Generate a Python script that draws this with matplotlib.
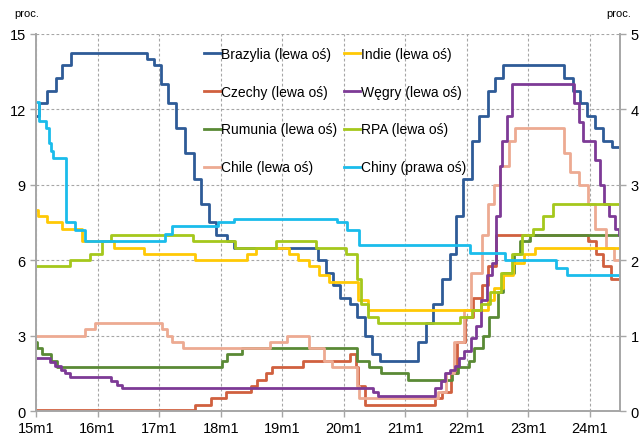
import pandas as pd
import numpy as np
import matplotlib.pyplot as plt
import matplotlib.dates as mdates

plt.rcParams['font.family'] = ['Liberation Sans', 'DejaVu Sans']

start = "2015-01-01"
end = "2024-06-28"

# policy rates: date of change -> new level
brazil_dates = ["2015-01-01", "2015-01-21", "2015-03-04", "2015-04-29", "2015-06-03", "2015-07-29",
                "2016-10-19", "2016-11-30", "2017-01-11", "2017-02-22", "2017-04-12", "2017-05-31",
                "2017-07-26", "2017-09-06", "2017-10-25", "2017-12-06", "2018-02-07", "2018-03-21",
                "2019-07-31", "2019-09-18", "2019-10-30", "2019-12-11", "2020-02-05", "2020-03-18",
                "2020-05-06", "2020-06-17", "2020-08-05", "2021-03-17", "2021-05-05", "2021-06-16",
                "2021-08-04", "2021-09-22", "2021-10-27", "2021-12-08", "2022-02-02", "2022-03-16",
                "2022-05-04", "2022-06-15", "2022-08-03", "2023-08-02", "2023-09-20", "2023-11-01",
                "2023-12-13", "2024-01-31", "2024-03-20", "2024-05-08"]
brazil_rates = [11.75, 12.25, 12.75, 13.25, 13.75, 14.25,
                14.0, 13.75, 13.0, 12.25, 11.25, 10.25,
                9.25, 8.25, 7.5, 7.0, 6.75, 6.5,
                6.0, 5.5, 5.0, 4.5, 4.25, 3.75,
                3.0, 2.25, 2.0, 2.75, 3.5, 4.25,
                5.25, 6.25, 7.75, 9.25, 10.75, 11.75,
                12.75, 13.25, 13.75, 13.25, 12.75, 12.25,
                11.75, 11.25, 10.75, 10.5]

india_dates = ["2015-01-01", "2015-01-15", "2015-03-04", "2015-06-02", "2015-09-29", "2016-04-05",
               "2016-10-04", "2017-08-02", "2018-06-06", "2018-08-01", "2019-02-07", "2019-04-04",
               "2019-06-06", "2019-08-07", "2019-10-04", "2020-03-27", "2020-05-22", "2022-05-04",
               "2022-06-08", "2022-08-05", "2022-09-30", "2022-12-07", "2023-02-08"]
india_rates = [8.0, 7.75, 7.5, 7.25, 6.75, 6.5,
               6.25, 6.0, 6.25, 6.5, 6.25, 6.0,
               5.75, 5.4, 5.15, 4.4, 4.0, 4.4,
               4.9, 5.4, 5.9, 6.25, 6.5]

czech_dates = ["2015-01-01", "2017-08-03", "2017-11-02", "2018-02-01", "2018-06-27", "2018-08-02",
               "2018-09-26", "2018-11-01", "2019-05-02", "2020-02-06", "2020-03-16", "2020-03-26",
               "2020-05-07", "2021-06-23", "2021-08-05", "2021-09-30", "2021-11-04", "2021-12-22",
               "2022-02-03", "2022-03-30", "2022-05-05", "2022-06-22", "2023-12-21", "2024-02-07",
               "2024-03-20", "2024-05-02"]
czech_rates = [0.05, 0.25, 0.5, 0.75, 1.0, 1.25,
               1.5, 1.75, 2.0, 2.25, 1.75, 1.0,
               0.25, 0.5, 0.75, 1.5, 2.75, 3.75,
               4.5, 5.0, 5.75, 7.0, 6.75, 6.25,
               5.75, 5.25]

hungary_dates = ["2015-01-01", "2015-03-25", "2015-04-22", "2015-05-27", "2015-06-24", "2015-07-22",
                 "2016-03-23", "2016-04-27", "2016-05-25", "2020-06-24", "2020-07-22", "2021-06-23",
                 "2021-07-28", "2021-08-25", "2021-09-22", "2021-10-20", "2021-11-17", "2021-12-15",
                 "2022-01-26", "2022-02-23", "2022-03-23", "2022-04-27", "2022-06-01", "2022-06-22",
                 "2022-07-13", "2022-07-27", "2022-08-24", "2022-09-28", "2023-09-27", "2023-10-25",
                 "2023-11-22", "2024-01-31", "2024-02-28", "2024-03-27", "2024-04-24", "2024-05-29",
                 "2024-06-19"]
hungary_rates = [2.1, 1.95, 1.8, 1.65, 1.5, 1.35,
                 1.2, 1.05, 0.9, 0.75, 0.6, 0.9,
                 1.2, 1.5, 1.65, 1.8, 2.1, 2.4,
                 2.9, 3.4, 4.4, 5.4, 5.9, 7.75,
                 9.75, 10.75, 11.75, 13.0, 12.25, 11.5,
                 10.75, 10.0, 9.0, 8.25, 7.75, 7.25,
                 7.0]

romania_dates = ["2015-01-01", "2015-01-08", "2015-02-05", "2015-04-01", "2015-05-07", "2018-01-09",
                 "2018-02-08", "2018-05-08", "2020-03-20", "2020-05-29", "2020-08-06", "2021-01-15",
                 "2021-10-06", "2021-11-09", "2022-01-11", "2022-02-09", "2022-04-06", "2022-05-11",
                 "2022-07-06", "2022-08-05", "2022-10-06", "2022-11-09", "2023-01-11"]
romania_rates = [2.75, 2.5, 2.25, 2.0, 1.75, 2.0,
                 2.25, 2.5, 2.0, 1.75, 1.5, 1.25,
                 1.5, 1.75, 2.0, 2.5, 3.0, 3.75,
                 4.75, 5.5, 6.25, 6.75, 7.0]

rpa_dates = ["2015-01-01", "2015-07-24", "2015-11-20", "2016-01-29", "2016-03-18", "2017-07-21",
             "2018-03-29", "2018-11-23", "2019-07-19", "2020-01-17", "2020-03-20", "2020-04-15",
             "2020-05-22", "2020-07-24", "2021-11-19", "2022-01-28", "2022-03-25", "2022-05-20",
             "2022-07-22", "2022-09-23", "2022-11-25", "2023-01-27", "2023-03-31", "2023-05-26"]
rpa_rates = [5.75, 6.0, 6.25, 6.75, 7.0, 6.75,
             6.5, 6.75, 6.5, 6.25, 5.25, 4.25,
             3.75, 3.5, 3.75, 4.0, 4.25, 4.75,
             5.5, 6.25, 7.0, 7.25, 7.75, 8.25]

chile_dates = ["2015-01-01", "2015-10-16", "2015-12-18", "2017-01-19", "2017-02-17", "2017-03-17",
               "2017-05-19", "2018-10-19", "2019-01-31", "2019-06-08", "2019-09-05", "2019-10-24",
               "2020-03-17", "2020-04-01", "2021-07-15", "2021-09-01", "2021-10-14", "2021-12-15",
               "2022-01-27", "2022-03-30", "2022-05-05", "2022-06-08", "2022-07-14", "2022-09-07",
               "2022-10-13", "2023-07-29", "2023-09-06", "2023-10-26", "2023-12-19", "2024-02-01",
               "2024-04-03", "2024-05-24"]
chile_rates = [3.0, 3.25, 3.5, 3.25, 3.0, 2.75,
               2.5, 2.75, 3.0, 2.5, 2.0, 1.75,
               1.0, 0.5, 0.75, 1.5, 2.75, 4.0,
               5.5, 7.0, 8.25, 9.0, 9.75, 10.75,
               11.25, 10.25, 9.5, 9.0, 8.25, 7.25,
               6.5, 6.0]

china_dates = ["2015-01-01", "2015-01-18", "2015-03-03", "2015-03-18", "2015-04-01", "2015-04-12",
               "2015-06-27", "2015-08-20", "2015-10-20", "2017-02-03", "2017-03-16", "2017-12-14",
               "2018-03-22", "2019-11-20", "2020-01-22", "2020-03-30", "2022-01-17", "2022-08-15",
               "2023-06-13", "2023-08-15"]
china_rates = [4.1, 3.85, 3.75, 3.55, 3.45, 3.35,
               2.5, 2.4, 2.25, 2.35, 2.45, 2.5,
               2.55, 2.5, 2.4, 2.2, 2.1, 2.0,
               1.9, 1.8]


def draw(ax, dates, rates, color, label):
    d = pd.to_datetime(dates + [end])
    r = rates + [rates[-1]]
    line, = ax.step(d, r, where='post', color=color, lw=2.0, label=label)
    return line


fig = plt.figure(figsize=(6.44, 4.39), dpi=100)
ax = fig.add_axes([0.056, 0.0615, 0.907, 0.8588])
ax2 = ax.twinx()

h_bra = draw(ax, brazil_dates, brazil_rates, '#2E5B97', 'Brazylia (lewa oś)')
h_cze = draw(ax, czech_dates, czech_rates, '#D0603F', 'Czechy (lewa oś)')
h_rom = draw(ax, romania_dates, romania_rates, '#5A8A35', 'Rumunia (lewa oś)')
h_chl = draw(ax, chile_dates, chile_rates, '#EDAA92', 'Chile (lewa oś)')
h_ind = draw(ax, india_dates, india_rates, '#FFC905', 'Indie (lewa oś)')
h_hun = draw(ax, hungary_dates, hungary_rates, '#7D3A96', 'Węgry (lewa oś)')
h_rpa = draw(ax, rpa_dates, rpa_rates, '#A5C81C', 'RPA (lewa oś)')
h_chn = draw(ax2, china_dates, china_rates, '#1ABCEB', 'Chiny (prawa oś)')

ax.set_xlim(pd.Timestamp(start), pd.Timestamp(end))
ax.set_ylim(0, 15)
ax2.set_ylim(0, 5)
ax.set_yticks([0, 3, 6, 9, 12, 15])
ax2.set_yticks([0, 1, 2, 3, 4, 5])

ax.xaxis.set_major_locator(mdates.YearLocator())
ax.xaxis.set_major_formatter(plt.FuncFormatter(
    lambda v, p: f"{mdates.num2date(v).year % 100}m1"))

grey = '#A6A6A6'
ax.grid(True, color=grey, ls=(0, (2.5, 2)), lw=0.8)
for a in (ax, ax2):
    a.spines['top'].set_visible(False)
    for s in ('left', 'right', 'bottom'):
        a.spines[s].set_color(grey)
        a.spines[s].set_linewidth(1.2)
    a.tick_params(colors=grey, labelcolor='black', labelsize=10.5, length=4, width=1)
ax.tick_params(axis='x', pad=3)

fig.text(0.022, 0.967, 'proc.', fontsize=8, va='center')
fig.text(0.942, 0.967, 'proc.', fontsize=8, va='center')

handles = [h_bra, h_cze, h_rom, h_chl, h_ind, h_hun, h_rpa, h_chn]
ax2.legend(handles=handles, ncol=2, frameon=False, fontsize=10,
           loc='upper left', bbox_to_anchor=(0.278, 0.981),
           handlelength=1.2, handletextpad=0.05, labelspacing=1.72,
           columnspacing=0.45, borderaxespad=0)

fig.savefig('out.png', dpi=100)
